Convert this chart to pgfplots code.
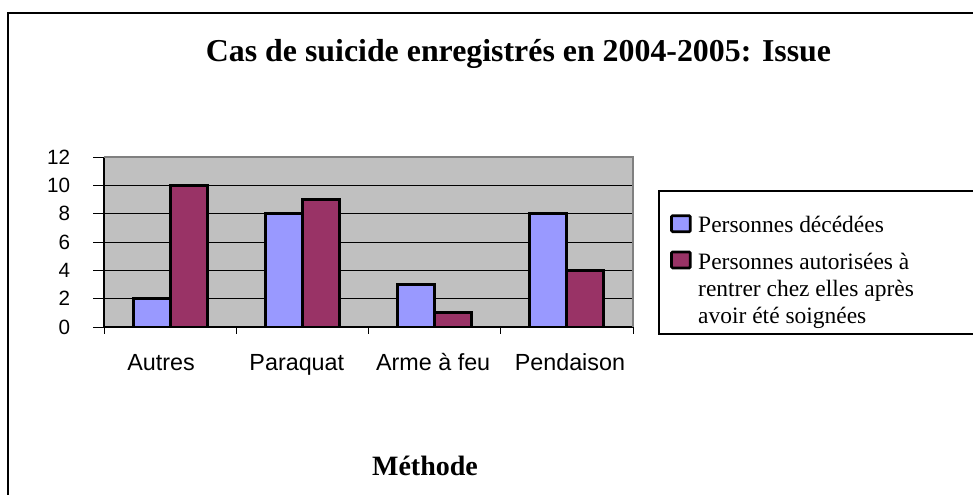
\documentclass[border=0pt]{standalone}
\usepackage{pgfplots}
\pgfplotsset{compat=1.18}
\usepackage{fontspec}
\setmainfont{Liberation Serif}
\newfontfamily\arial{Liberation Sans}
\definecolor{cblue}{HTML}{9999FF}
\definecolor{cred}{HTML}{993366}
\definecolor{pbg}{HTML}{C0C0C0}
\definecolor{bord}{HTML}{808080}
\begin{document}
\begin{tikzpicture}[x=0.75pt,y=0.75pt]
\useasboundingbox (0,0) rectangle (973,494);
\fill[white] (0,0) rectangle (973,494);
% outer frame
\draw[black, line width=1.2pt] (8,-10) -- (8,481) -- (990,481);
% legend box
\draw[black, line width=0.9pt] (659,303) rectangle (995,160);
% title
\node[anchor=base, font=\fontsize{23.9}{28}\selectfont\bfseries] at (518.5,432) {Cas de suicide enregistrés en 2004-2005: Issue};
\node[anchor=base, font=\fontsize{21}{25}\selectfont\bfseries] at (425,19) {Méthode};
\begin{axis}[
  at={(78pt,125.25pt)}, anchor=south west,
  width=396.75pt, height=127.5pt, scale only axis,
  xmin=-0.5, xmax=3.5, ymin=0, ymax=12,
  axis lines*=left,
  axis line style={black, line width=0.8pt},
  axis background/.style={fill=pbg},
  clip=false,
  ybar=0pt, bar width=27.75pt,
  xtick={-0.068,0.958,1.989,3.023},
  xticklabels={Autres,Paraquat,Arme à feu,Pendaison},
  xtick style={draw=none},
  ytick={0,2,4,6,8,10,12},
  ytick style={black, line width=0.75pt},
  tick align=outside, major tick length=8.25pt,
  ymajorgrids, grid style={black, line width=0.75pt},
  /pgf/number format/assume math mode=true,
  yticklabel style={font=\arial\fontsize{15.5}{18}\selectfont, anchor=east, inner sep=0pt, xshift=-17pt},
  xticklabel style={font=\arial\fontsize{17.5}{20}\selectfont, anchor=base, inner sep=0pt, yshift=-24pt},
  legend style={at={(1.0623,0.698)}, anchor=north west, draw=none, fill=none,
    font=\fontsize{17.6}{20.25}\selectfont, row sep=7.5pt, column sep=3pt},
  legend cell align=left,
]
\addplot[fill=cblue, draw=black, line width=2.2pt,
  legend image code/.code={\draw[fill=cblue, draw=black, line width=2pt, rounded corners=0.8pt] (0pt,-5.5pt) rectangle (14pt,6.5pt);}]
  coordinates {(0,2) (1,8) (2,3) (3,8)};
\addlegendentry{{\begin{tabular}[t]{@{}l@{}}Personnes décédées\end{tabular}}}
\addplot[fill=cred, draw=black, line width=2.2pt,
  legend image code/.code={\draw[fill=cred, draw=black, line width=2pt, rounded corners=0.8pt] (0pt,-5.5pt) rectangle (14pt,6.5pt);}]
  coordinates {(0,10) (1,9) (2,1) (3,4)};
\addlegendentry{{\begin{tabular}[t]{@{}l@{}}Personnes autorisées à\\rentrer chez elles après\\avoir été soignées\end{tabular}}}
\draw[bord, line width=1.5pt] (rel axis cs:0,1) -- (rel axis cs:1,1) -- (rel axis cs:1,0);
\pgfplotsinvokeforeach{-0.5,0.5,1.5,2.5,3.5}{\draw[black, line width=0.75pt] (axis cs:#1,0) -- ++(0pt,-5.25pt);}
\end{axis}
\end{tikzpicture}
\end{document}
